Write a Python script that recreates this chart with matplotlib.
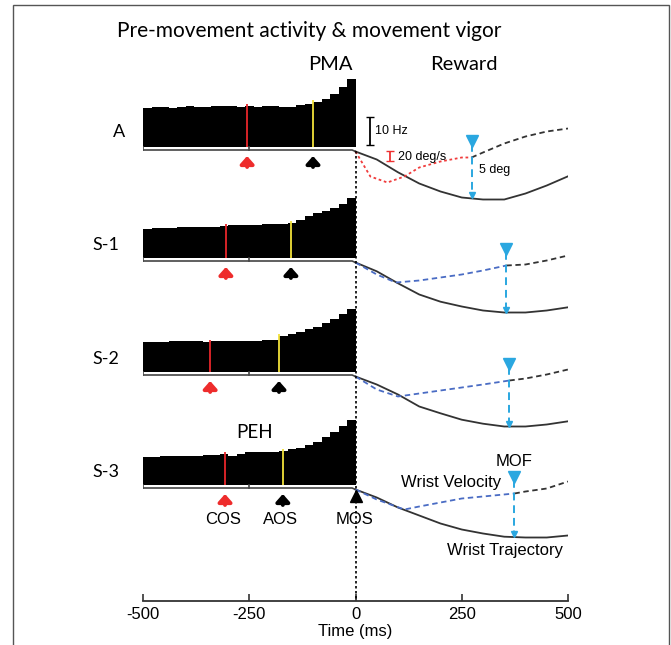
import numpy as np
import matplotlib
matplotlib.use('Agg')
import matplotlib.pyplot as plt
from matplotlib.patches import Rectangle

# Scale factors (pixels per unit) for the stacked panels
HZ_PX = 2.8     # 10 Hz scale bar
DPS_PX = 0.5    # 20 deg/s scale bar
DEG_PX = 8.0

rows = ['A', 'S-1', 'S-2', 'S-3']

# Peri-event histograms (Hz), 20 ms bins from -500 to 0 ms
bin_edges = np.arange(-500, 1, 20)
rate_A = [13.9, 14.3, 14.3, 13.9, 14.3, 14.6, 14.3, 14.3, 14.6, 14.6, 14.6, 14.3, 14.6,
          14.3, 14.6, 14.6, 14.3, 14.3, 15.0, 15.4, 16.1, 17.1, 18.9, 21.4, 24.3]
rate_S1 = [10.4, 10.7, 10.7, 10.7, 11.1, 11.1, 11.1, 11.1, 11.1, 11.4, 11.8, 11.8, 11.8,
           11.8, 12.1, 12.1, 12.1, 12.5, 13.6, 15.0, 16.1, 16.8, 17.9, 19.3, 21.4]
rate_S2 = [10.7, 10.7, 10.7, 11.1, 11.1, 11.1, 11.1, 10.7, 11.1, 11.1, 11.1, 11.1, 11.1,
           11.1, 11.4, 11.4, 12.9, 13.6, 14.3, 15.4, 16.1, 17.5, 18.9, 20.7, 22.5]
rate_S3 = [10.0, 10.0, 10.4, 10.4, 10.4, 10.4, 10.4, 10.7, 10.7, 11.1, 10.4, 11.1, 11.8,
           11.8, 11.8, 11.8, 12.1, 12.9, 13.2, 14.3, 15.4, 17.1, 18.9, 21.1, 23.2]
rates = [rate_A, rate_S1, rate_S2, rate_S3]

# Event times (ms relative to movement onset)
cos_t = [-255, -305, -342, -307]
aos_t = [-100, -152, -180, -171]
mof_t = [273, 355, 362, 374]

# Wrist trajectory (deg), 0..500 ms
t_traj = np.arange(0, 501, 50)
traj_A = [0, -1.0, -2.6, -4.0, -5.0, -5.75, -6.0, -6.0, -5.25, -4.25, -3.1]
traj_S1 = [0, -1.1, -2.6, -4.0, -4.9, -5.5, -6.0, -6.25, -6.25, -6.0, -5.6]
traj_S2 = [0, -1.0, -2.25, -3.75, -4.6, -5.4, -5.9, -6.25, -6.25, -6.0, -5.6]
traj_S3 = [0, -1.0, -2.25, -3.25, -4.25, -5.0, -5.5, -5.9, -6.0, -6.0, -5.75]
trajs = [traj_A, traj_S1, traj_S2, traj_S3]

# Wrist velocity (deg/s)
t_vel_A = [0, 35, 75, 115, 150, 200, 250, 273, 300, 350, 400, 450, 500]
vel_A = [0, -50, -62, -50, -32, -20, -12, -12, -2, 16, 30, 40, 46]
t_vel_S1 = [0, 50, 95, 150, 200, 250, 300, 355, 400, 450, 500]
vel_S1 = [0, -24, -40, -36, -30, -24, -16, -6, -4, 4, 14]
t_vel_S2 = [0, 50, 100, 150, 200, 250, 300, 362, 400, 450, 500]
vel_S2 = [0, -26, -40, -34, -28, -22, -16, -8, -4, 4, 14]
t_vel_S3 = [0, 50, 115, 150, 200, 250, 300, 374, 400, 450, 500]
vel_S3 = [0, -20, -40, -34, -26, -18, -14, -8, -4, 2, 16]
t_vels = [t_vel_A, t_vel_S1, t_vel_S2, t_vel_S3]
vels = [vel_A, vel_S1, vel_S2, vel_S3]

# layout (pixel rows from the top of the figure)
base_y = [147, 258, 372, 485]
vel_colors = ['#f03c3c', '#4a6cc4', '#4a6cc4', '#4a6cc4']
vel_styles = [(0, (1.5, 1.5)), (0, (3, 2)), (0, (3, 2)), (0, (3, 2))]
mof_blue = '#2aa7e0'

sans = 'Liberation Sans'
title_font = 'Lato'

fig = plt.figure(figsize=(6.71, 6.45), dpi=100)
ax = fig.add_axes([143 / 671, 44 / 645, 425 / 671, 601 / 645])
ax.set_xlim(-500, 500)
ax.set_ylim(601, 0)

for i in range(4):
    b = base_y[i]
    r = np.array(rates[i])
    ax.stairs(b - r * HZ_PX, bin_edges, baseline=b, fill=True, color='black', lw=0)

    # event lines inside histogram
    for t, c in [(cos_t[i], '#e8262b'), (aos_t[i], '#f2e13a')]:
        k = min(int((t + 500) // 20), len(r) - 1)
        ax.plot([t, t], [b, b - r[k] * HZ_PX - 2], color=c, lw=1.3, solid_capstyle='butt')

    # time bar below histogram
    yb = b + 3
    ax.plot([-500, -8, 0], [yb, yb, yb + 1.5], color='#444444', lw=1.2)
    for tk in [-500, -250]:
        ax.plot([tk, tk], [yb, yb - 3], color='#444444', lw=1.2)

    # COS / AOS arrows
    for t, c in [(cos_t[i], '#ee2c2c'), (aos_t[i], 'black')]:
        ax.annotate('', xy=(t, b + 9), xytext=(t, b + 20),
                    arrowprops=dict(arrowstyle='-|>,head_length=0.45,head_width=0.4',
                                    color=c, lw=2.8, shrinkA=0, shrinkB=0))

    # trajectory
    y0 = yb + 1.5
    tr = np.array(trajs[i])
    ax.plot(t_traj, y0 - tr * DEG_PX, color='#333333', lw=1.3)

    # velocity, coloured until MOF then black dashed
    tv = np.array(t_vels[i])
    vy = y0 - np.array(vels[i]) * DPS_PX
    pre = tv <= mof_t[i]
    post = tv >= mof_t[i]
    ax.plot(tv[pre], vy[pre], color=vel_colors[i], lw=1.3, linestyle=vel_styles[i])
    ax.plot(tv[post], vy[post], color='#333333', lw=1.3, linestyle=(0, (3, 2)))

    # MOF marker
    v_mof = vy[tv == mof_t[i]][0]
    tr_mof = y0 - np.interp(mof_t[i], t_traj, tr) * DEG_PX
    ax.plot(mof_t[i], v_mof - 17, marker='v', ms=9, color=mof_blue, mec=mof_blue)
    ax.plot([mof_t[i], mof_t[i]], [v_mof - 14, tr_mof - 4], color=mof_blue, lw=1.4,
            linestyle=(0, (4, 2.5)))
    ax.plot(mof_t[i], tr_mof - 3, marker='v', ms=5, color=mof_blue, mec=mof_blue)

    ax.text(-557 if i == 0 else -587, b - 15 if i == 0 else b - 13, rows[i],
            ha='center', va='center', fontsize=13, family=title_font)

# movement onset line
ax.plot([0, 0], [151, 601], color='black', lw=1.2, linestyle=(0, (1.5, 1.5)))
ax.plot(0, 496, marker='^', ms=8, color='black')

# scale bars
ax.errorbar(33, 131, yerr=14, color='black', lw=1.3, capsize=3)
ax.text(47, 131, '10 Hz', fontsize=9, family=sans, va='center')
ax.errorbar(82, 155.5, yerr=5, color='#ee3030', lw=1.3, capsize=3)
ax.text(99, 157, '20 deg/s', fontsize=9, family=sans, va='center')
ax.text(290, 170, '5 deg', fontsize=9, family=sans, va='center')

# annotations
ax.text(-561, 31, 'Pre-movement activity & movement vigor', fontsize=15,
        family=title_font, va='center', ha='left')
ax.text(-59, 65, 'PMA', fontsize=14.5, family=title_font, ha='center', va='center')
ax.text(254, 65, 'Reward', fontsize=14.5, family=title_font, ha='center', va='center')
ax.text(-237, 433, 'PEH', fontsize=13.5, family=title_font, ha='center', va='center')
ax.text(-312, 519, 'COS', fontsize=12, family=sans, ha='center', va='center')
ax.text(-176, 519, 'AOS', fontsize=12, family=sans, ha='center', va='center')
ax.text(-2, 519, 'MOS', fontsize=12, family=sans, ha='center', va='center')
ax.text(374, 462, 'MOF', fontsize=12, family=sans, ha='center', va='center')
ax.text(224, 483, 'Wrist Velocity', fontsize=12, family=sans, ha='center', va='center')
ax.text(351, 551, 'Wrist Trajectory', fontsize=12, family=sans, ha='center', va='center')

# x axis
for s in ['top', 'left', 'right']:
    ax.spines[s].set_visible(False)
ax.spines['bottom'].set_color('#333333')
ax.spines['bottom'].set_linewidth(1.3)
ax.set_yticks([])
ax.set_xticks([-500, -250, 0, 250, 500])
ax.set_xticklabels(['-500', '-250', '0', '250', '500'], family=sans, fontsize=12)
ax.tick_params(axis='x', direction='in', length=5, width=1.2, pad=4, colors='#333333',
               labelcolor='black')
ax.set_xlabel('Time (ms)', family=sans, fontsize=12, labelpad=2)

# outer frame
fig.add_artist(Rectangle((13 / 671, -0.05), 656 / 671, 640 / 645 + 0.05,
                         transform=fig.transFigure, fill=False, edgecolor='#555555', lw=1))

fig.savefig('out.png', dpi=100)
